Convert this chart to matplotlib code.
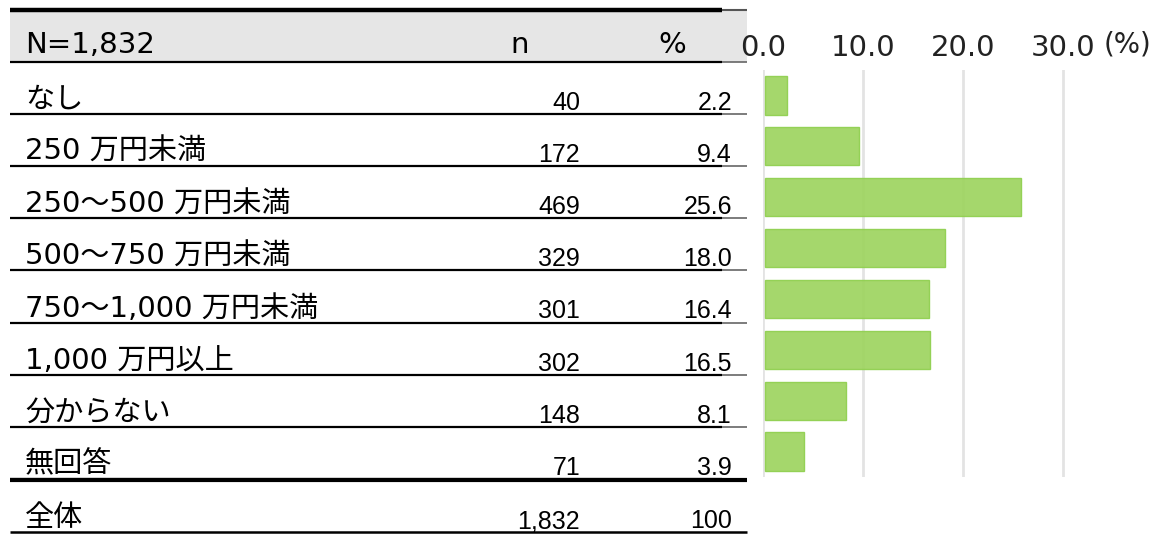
import matplotlib.pyplot as plt
from matplotlib import font_manager

# data
labels = ["なし", "250 万円未満", "250～500 万円未満", "500～750 万円未満",
          "750～1,000 万円未満", "1,000 万円以上", "分からない", "無回答"]
counts = ["40", "172", "469", "329", "301", "302", "148", "71"]
pcts = [2.2, 9.4, 25.6, 18.0, 16.4, 16.5, 8.1, 3.9]
total_label = "全体"
total_n = "1,832"
total_pct = "100"
header = "N=1,832"
xticks = [0, 10, 20, 30]

plt.rcParams['font.family'] = ['DejaVu Sans', 'Noto Sans CJK JP']

# narrow font for the number columns, if we have one
names = {f.name for f in font_manager.fontManager.ttflist}
if 'Liberation Sans Narrow' in names:
    num_font, num_size = ['Liberation Sans Narrow', 'Noto Sans CJK JP'], 20
else:
    num_font, num_size = ['Liberation Sans', 'Noto Sans CJK JP'], 18

W, H = 1154, 534
fig = plt.figure(figsize=(W / 100, H / 100), dpi=100)

# table layer in pixel coords
tab = fig.add_axes([0, 0, 1, 1])
tab.set_xlim(0, W)
tab.set_ylim(H, 0)
tab.axis('off')

top, head_bot, row_h = 10, 62, 52.1
tab.fill_between([10, 747], top, head_bot, color='#e6e6e6', lw=0)
tab.plot([10, 722], [top, top], color='black', lw=3.2, solid_capstyle='butt')
tab.plot([722, 747], [top, top], color='#555555', lw=1.5, solid_capstyle='butt')

def hline(y, lw):
    tab.plot([10, 722], [y, y], color='black', lw=lw, solid_capstyle='butt')
    tab.plot([722, 747], [y, y], color='#666666', lw=1.2, solid_capstyle='butt')

hline(head_bot, 1.6)
tab.text(25, head_bot - 9, header, fontsize=21, va='baseline', ha='left')
tab.text(520, head_bot - 9, "n", fontsize=21, va='baseline', ha='center')
tab.text(672, head_bot - 9, "%", fontsize=21, va='baseline', ha='center')

for i, (lab, n, p) in enumerate(zip(labels, counts, pcts)):
    yb = head_bot + row_h * (i + 1)
    hline(yb, 1.6)
    tab.text(25, yb - 6, lab, fontsize=21, va='baseline', ha='left')
    tab.text(580, yb - 4, n, fontsize=num_size, va='baseline', ha='right', family=num_font)
    tab.text(732, yb - 4, f"{p:.1f}", fontsize=num_size, va='baseline', ha='right', family=num_font)

sep = head_bot + row_h * len(labels) + 1
tab.plot([10, 747], [sep, sep], color='black', lw=3.0, solid_capstyle='butt')
bot = 532
tab.plot([10, 747], [bot, bot], color='black', lw=1.8, solid_capstyle='butt')
tab.text(25, bot - 6, total_label, fontsize=21, va='baseline', ha='left')
tab.text(580, bot - 4, total_n, fontsize=num_size, va='baseline', ha='right', family=num_font)
tab.text(732, bot - 4, total_pct, fontsize=num_size, va='baseline', ha='right', family=num_font)

# bar chart
x0, x1 = 763, W
y_top, y_bot = 70, 477
ax = fig.add_axes([x0 / W, 1 - y_bot / H, (x1 - x0) / W, (y_bot - y_top) / H])
pos = list(range(len(pcts)))
ax.barh(pos, pcts, height=0.75, left=0.2, color='#9ed45f', edgecolor='#8fcf4e',
        lw=1.0, alpha=0.92, zorder=3)
ax.set_ylim(len(pcts) - 0.5, -0.5)
ax.set_xlim(0, (x1 - x0) / 10)
ax.set_xticks(xticks)
ax.set_xticklabels([f"{t:.1f}" for t in xticks])
ax.xaxis.tick_top()
ax.tick_params(axis='x', length=0, pad=6, labelsize=21, labelcolor='#222222')
ax.set_yticks([])
for t in xticks:
    ax.axvline(t, color='#e3e3e3', lw=2.0, zorder=1)
for s in ax.spines.values():
    s.set_visible(False)
tab.text(1128, 45, "(%)", fontsize=20, ha='center', va='center', color='#222222')

fig.savefig('out.png', dpi=100)
